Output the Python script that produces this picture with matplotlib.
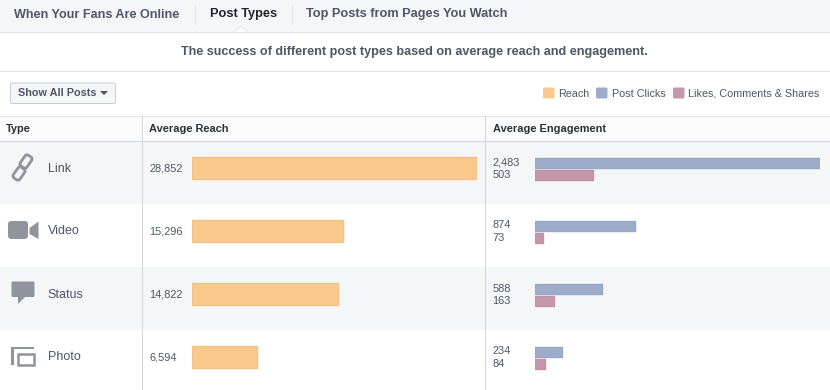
import matplotlib
matplotlib.use("Agg")
import matplotlib.pyplot as plt
from matplotlib.patches import FancyBboxPatch, Polygon, Rectangle

plt.rcParams['font.family'] = ['Liberation Sans', 'DejaVu Sans']

# Values
post_types = ["Link", "Video", "Status", "Photo"]
reach = [28852, 15296, 14822, 6594]
post_clicks = [2483, 874, 588, 234]
likes_comments = [503, 73, 163, 84]
tabs = ["When Your Fans Are Online", "Post Types", "Top Posts from Pages You Watch"]
legend_labels = ["Reach", "Post Clicks", "Likes, Comments & Shares"]

ORANGE = "#f9c98d"
BLUE = "#9dacc9"
PINK = "#c497ab"
GREY_BG = "#f5f6f8"
LINE = "#e2e3e6"
TEXT = "#4e5665"
ICON = "#8f949d"

row_top = [141, 204, 267, 330]
row_h = 63
thin = 0.72  # one pixel at dpi 100

fig = plt.figure(figsize=(8.3, 3.9), dpi=100, facecolor="white")

# background axes in pixels for the page furniture
bg = fig.add_axes([0, 0, 1, 1])
bg.set_xlim(0, 830)
bg.set_ylim(390, 0)
bg.axis("off")

# tab strip
bg.add_patch(Rectangle((0, 0), 830, 31.5, fc=GREY_BG, ec="none"))
bg.plot([0, 830], [31.5, 31.5], color=LINE, lw=thin)
bg.add_patch(Polygon([[234, 32], [241, 26.5], [248, 32]], fc="white", ec="none", zorder=3))
bg.plot([234, 241, 248], [31.5, 26.5, 31.5], color=LINE, lw=thin, zorder=3)
for x in [194.5, 291.5]:
    bg.plot([x, x], [5, 24], color=LINE, lw=thin)
bg.text(13.5, 14.5, tabs[0], fontsize=9.1, fontweight="bold", color=TEXT, va="center")
bg.text(210, 14.5, tabs[1], fontsize=9.2, fontweight="bold", color="#20242c", va="center")
bg.text(306, 14.5, tabs[2], fontsize=9.2, fontweight="bold", color=TEXT, va="center")

bg.text(414, 52, "The success of different post types based on average reach and engagement.",
        fontsize=9.05, fontweight="bold", color=TEXT, ha="center", va="center")
bg.plot([0, 830], [71, 71], color=LINE, lw=thin)

# dropdown button
bg.add_patch(FancyBboxPatch((10.5, 83), 105, 20.5, boxstyle="round,pad=0,rounding_size=2",
                            fc=GREY_BG, ec="#c9ccd2", lw=thin))
bg.text(18, 93, "Show All Posts", fontsize=7.8, fontweight="bold", color=TEXT, va="center")
bg.add_patch(Polygon([[100, 91], [108, 91], [104, 95]], fc=TEXT, ec="none"))

# legend
for x, tx, col, lab in zip([543, 596, 673], [558, 612, 688], [ORANGE, BLUE, PINK], legend_labels):
    bg.add_patch(FancyBboxPatch((x, 87.5), 11.5, 11, boxstyle="round,pad=0,rounding_size=1.5",
                                fc=col, ec="none"))
    bg.text(tx, 94, lab, fontsize=7.75, color=TEXT, va="center")

# table header
bg.add_patch(Rectangle((0, 115.5), 830, 25.5, fc="#fbfbfc", ec="none"))
bg.plot([0, 830], [115.5, 115.5], color=LINE, lw=thin)
bg.plot([0, 830], [141, 141], color="#d3d5da", lw=thin)
for tx, lab in zip([6, 149, 492.5], ["Type", "Average Reach", "Average Engagement"]):
    bg.text(tx, 128.5, lab, fontsize=7.9, fontweight="bold", color="#2b2f38", va="center")

# rows
for i, top in enumerate(row_top):
    if i % 2 == 0:
        bg.add_patch(Rectangle((0, top), 830, row_h, fc=GREY_BG, ec="none"))
    mid = top + 27
    bg.text(47.5, mid + 0.5, post_types[i], fontsize=9, color=TEXT, va="center")
    bg.text(149, mid + 0.5, f"{reach[i]:,}", fontsize=7.9, color=TEXT, va="center")
    bg.text(492.5, mid - 5.5, f"{post_clicks[i]:,}", fontsize=7.9, color=TEXT, va="center")
    bg.text(492.5, mid + 7, f"{likes_comments[i]:,}", fontsize=7.9, color=TEXT, va="center")
for x in [141.5, 484.5]:
    bg.plot([x, x], [115.5, 390], color="#d3d5da", lw=thin)

# icons
# link: two slanted chain loops
for cx, cy in [(26, 161.5), (19, 173.5)]:
    loop = FancyBboxPatch((cx - 4, cy - 6.5), 8, 13, boxstyle="round,pad=0,rounding_size=2.5",
                          fc="none", ec=ICON, lw=2)
    t = matplotlib.transforms.Affine2D().rotate_deg_around(cx, cy, 35) + bg.transData
    loop.set_transform(t)
    bg.add_patch(loop)
# video camera
bg.add_patch(FancyBboxPatch((8, 221), 20, 18, boxstyle="round,pad=0,rounding_size=3.5", fc=ICON, ec="none"))
bg.add_patch(Polygon([[29.5, 228], [38.5, 221.5], [38.5, 239], [29.5, 234]], fc=ICON, ec="none"))
# speech bubble
bg.add_patch(FancyBboxPatch((11.5, 281.5), 23, 15.5, boxstyle="round,pad=0,rounding_size=1.5", fc=ICON, ec="none"))
bg.add_patch(Polygon([[18, 296], [18, 304], [26, 296]], fc=ICON, ec="none"))
# stacked photos
bg.add_patch(Polygon([[11, 346.5], [11, 365], [13.5, 365], [13.5, 349], [34, 349], [34, 346.5]], fc=ICON, ec="none"))
bg.add_patch(Rectangle((18, 353.5), 16, 11.5, fc="none", ec=ICON, lw=1.8))


def bar_axes(left, width, xmax):
    ax = fig.add_axes([left / 830, 0, width / 830, 1])
    ax.set_xlim(0, xmax)
    ax.set_ylim(390, 0)
    ax.axis("off")
    ax.patch.set_alpha(0)
    return ax


def round_corners(bars):
    for b in bars:
        b.set_joinstyle("round")


# reach bars, scaled to the largest value
ax_reach = bar_axes(192, 285, max(reach))
round_corners(ax_reach.barh([t + 27 for t in row_top], reach, height=22, color=ORANGE,
                            edgecolor="#f3c287", linewidth=1))

# engagement bars
ax_eng = bar_axes(535, 285, max(post_clicks))
round_corners(ax_eng.barh([t + 21.5 for t in row_top], post_clicks, height=10, color=BLUE,
                          edgecolor="#98a7c5", linewidth=1))
round_corners(ax_eng.barh([t + 33.5 for t in row_top], likes_comments, height=10, color=PINK,
                          edgecolor="#bf92a6", linewidth=1))

fig.savefig("out.png", dpi=100, facecolor="white")
